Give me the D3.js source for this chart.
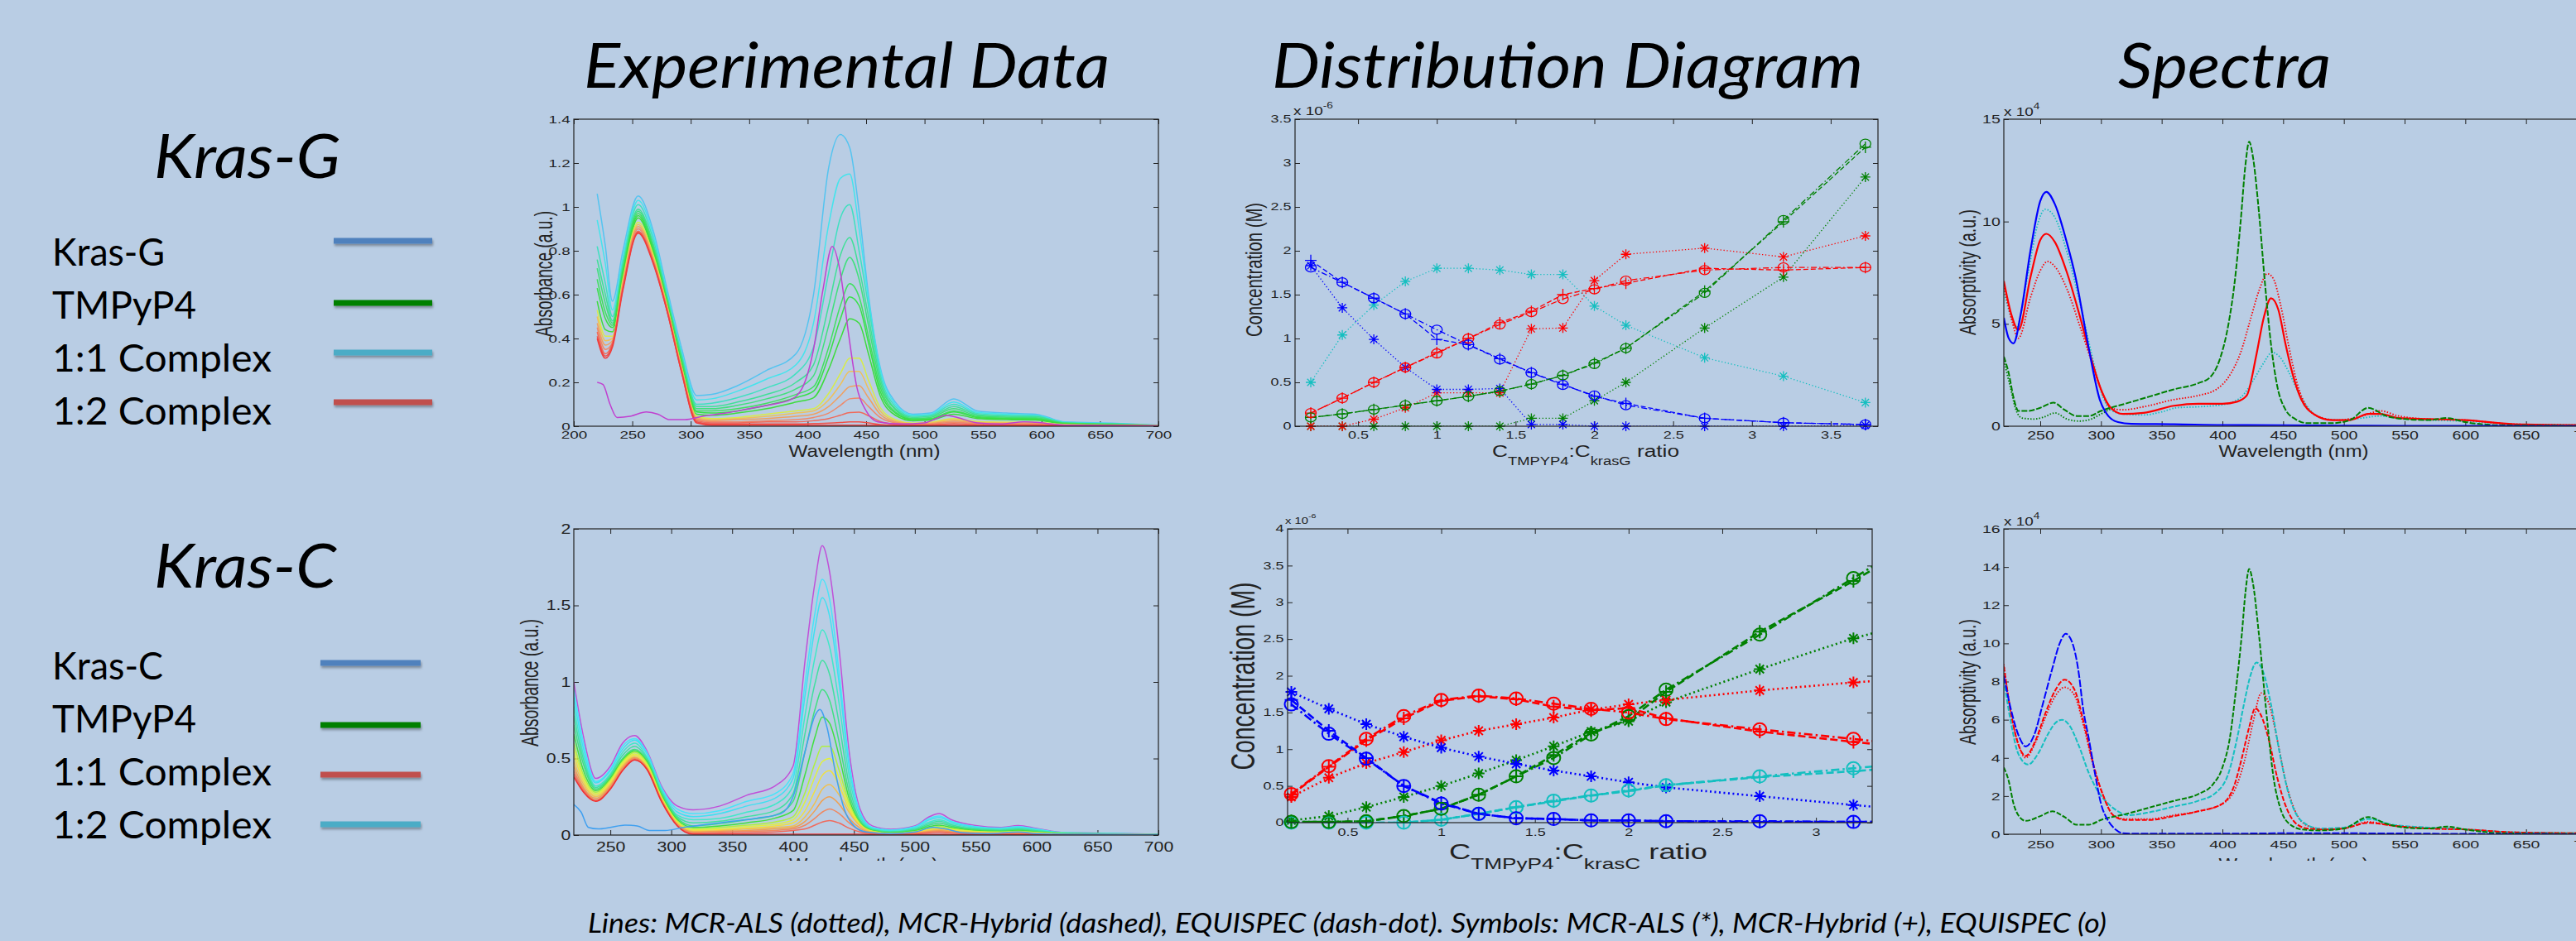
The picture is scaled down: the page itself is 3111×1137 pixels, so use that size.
<!DOCTYPE html>
<html>
<head>
<meta charset="utf-8">
<script src="https://cdn.jsdelivr.net/npm/d3@7"></script>
<style>
  body { margin: 0; background: #b9cde4; }
  svg { display: block; }
</style>
</head>
<body>
<script>
// ---------------- data ----------------

// Kras-G experimental titration spectra: one row per wavelength, 15 spectra (red -> light blue)
const expGWave = [220, 227, 233, 242, 255, 268, 280, 292, 305, 318, 340, 365, 390, 405, 418, 428, 436, 444, 452, 462, 475, 490, 505, 525, 545, 570, 595, 620, 660, 700];
const expGRows = [
  [0.40, 0.41, 0.43, 0.45, 0.47, 0.50, 0.53, 0.57, 0.63, 0.67, 0.72, 0.76, 0.82, 0.94, 1.06],
  [0.31, 0.32, 0.33, 0.35, 0.37, 0.39, 0.41, 0.44, 0.49, 0.52, 0.56, 0.60, 0.65, 0.74, 0.82],
  [0.36, 0.37, 0.38, 0.38, 0.39, 0.40, 0.41, 0.43, 0.45, 0.46, 0.47, 0.48, 0.50, 0.53, 0.57],
  [0.62, 0.63, 0.63, 0.64, 0.65, 0.66, 0.67, 0.68, 0.70, 0.71, 0.72, 0.73, 0.75, 0.77, 0.80],
  [0.88, 0.885, 0.89, 0.90, 0.91, 0.92, 0.93, 0.95, 0.96, 0.97, 0.98, 0.99, 1.01, 1.03, 1.05],
  [0.74, 0.745, 0.75, 0.755, 0.76, 0.77, 0.78, 0.79, 0.80, 0.81, 0.82, 0.83, 0.85, 0.87, 0.89],
  [0.52, 0.52, 0.525, 0.53, 0.535, 0.54, 0.545, 0.55, 0.56, 0.565, 0.57, 0.58, 0.59, 0.60, 0.62],
  [0.25, 0.25, 0.255, 0.26, 0.265, 0.27, 0.275, 0.28, 0.29, 0.30, 0.31, 0.32, 0.33, 0.34, 0.36],
  [0.015, 0.02, 0.025, 0.03, 0.035, 0.04, 0.045, 0.055, 0.065, 0.07, 0.08, 0.09, 0.10, 0.12, 0.14],
  [0.005, 0.01, 0.015, 0.02, 0.025, 0.03, 0.035, 0.05, 0.06, 0.07, 0.08, 0.09, 0.105, 0.125, 0.145],
  [0.005, 0.01, 0.015, 0.02, 0.03, 0.035, 0.04, 0.06, 0.07, 0.08, 0.095, 0.11, 0.13, 0.16, 0.185],
  [0.005, 0.01, 0.02, 0.025, 0.035, 0.045, 0.055, 0.08, 0.095, 0.105, 0.125, 0.145, 0.175, 0.215, 0.255],
  [0.005, 0.01, 0.02, 0.03, 0.045, 0.06, 0.07, 0.11, 0.13, 0.145, 0.17, 0.20, 0.24, 0.28, 0.33],
  [0.005, 0.012, 0.025, 0.04, 0.055, 0.07, 0.08, 0.13, 0.16, 0.18, 0.23, 0.28, 0.36, 0.47, 0.60],
  [0.005, 0.014, 0.035, 0.06, 0.09, 0.12, 0.15, 0.26, 0.32, 0.36, 0.46, 0.55, 0.70, 0.92, 1.18],
  [0.005, 0.017, 0.05, 0.095, 0.14, 0.19, 0.24, 0.40, 0.49, 0.55, 0.67, 0.78, 0.95, 1.13, 1.33],
  [0.005, 0.02, 0.062, 0.125, 0.18, 0.25, 0.31, 0.49, 0.59, 0.65, 0.77, 0.86, 1.01, 1.15, 1.27],
  [0.005, 0.02, 0.064, 0.128, 0.185, 0.25, 0.31, 0.47, 0.55, 0.59, 0.67, 0.72, 0.80, 0.90, 0.98],
  [0.005, 0.015, 0.048, 0.09, 0.13, 0.17, 0.21, 0.33, 0.38, 0.41, 0.46, 0.50, 0.55, 0.58, 0.60],
  [0.005, 0.008, 0.022, 0.04, 0.055, 0.07, 0.085, 0.14, 0.16, 0.18, 0.20, 0.22, 0.24, 0.26, 0.27],
  [0.004, 0.005, 0.01, 0.015, 0.02, 0.025, 0.03, 0.05, 0.06, 0.065, 0.075, 0.08, 0.09, 0.10, 0.11],
  [0.003, 0.004, 0.006, 0.008, 0.01, 0.012, 0.014, 0.025, 0.03, 0.032, 0.035, 0.04, 0.045, 0.05, 0.055],
  [0.003, 0.004, 0.007, 0.01, 0.012, 0.015, 0.018, 0.028, 0.032, 0.035, 0.04, 0.045, 0.05, 0.055, 0.06],
  [0.004, 0.006, 0.012, 0.018, 0.024, 0.03, 0.035, 0.055, 0.065, 0.07, 0.08, 0.09, 0.10, 0.11, 0.125],
  [0.003, 0.004, 0.008, 0.012, 0.015, 0.018, 0.022, 0.035, 0.04, 0.043, 0.048, 0.053, 0.058, 0.063, 0.07],
  [0.003, 0.004, 0.007, 0.01, 0.013, 0.016, 0.019, 0.03, 0.034, 0.037, 0.041, 0.045, 0.05, 0.055, 0.06],
  [0.003, 0.004, 0.007, 0.01, 0.012, 0.015, 0.018, 0.028, 0.032, 0.035, 0.039, 0.043, 0.047, 0.05, 0.055],
  [0.002, 0.003, 0.004, 0.005, 0.006, 0.007, 0.008, 0.01, 0.012, 0.013, 0.014, 0.015, 0.016, 0.018, 0.02],
  [0.002, 0.002, 0.003, 0.003, 0.004, 0.004, 0.005, 0.006, 0.007, 0.008, 0.009, 0.01, 0.011, 0.012, 0.014],
  [0.001, 0.001, 0.001, 0.002, 0.002, 0.002, 0.002, 0.003, 0.003, 0.003, 0.004, 0.004, 0.004, 0.005, 0.005]
];
// TMPyP4 alone (magenta) in the Kras-G panel
const expGMagWave = [220, 225, 231, 237, 248, 262, 272, 282, 295, 310, 330, 350, 370, 385, 395, 405, 413, 421, 428, 435, 442, 450, 460, 480, 500, 510, 518, 528, 545, 565, 585, 595, 620, 660, 700];
const expGMagVal = [0.20, 0.19, 0.10, 0.04, 0.045, 0.065, 0.055, 0.03, 0.03, 0.045, 0.06, 0.08, 0.10, 0.12, 0.17, 0.35, 0.62, 0.82, 0.70, 0.42, 0.18, 0.07, 0.02, 0.01, 0.015, 0.035, 0.05, 0.04, 0.015, 0.01, 0.02, 0.018, 0.005, 0.003, 0.002];

// Kras-C experimental titration spectra: 14 spectra (red -> cyan) + magenta envelope
const expCWave = [220, 228, 238, 250, 260, 270, 280, 292, 305, 318, 340, 362, 385, 400, 410, 418, 424, 430, 438, 446, 455, 465, 480, 500, 512, 520, 530, 550, 570, 585, 600, 620, 660, 700];
const expCRows = [
  [0.38, 0.40, 0.42, 0.45, 0.48, 0.52, 0.56, 0.60, 0.66, 0.72, 0.78, 0.84, 0.90, 0.95, 1.00],
  [0.28, 0.29, 0.30, 0.31, 0.33, 0.35, 0.37, 0.39, 0.42, 0.46, 0.49, 0.52, 0.56, 0.60, 0.64],
  [0.22, 0.225, 0.23, 0.24, 0.25, 0.26, 0.27, 0.28, 0.29, 0.30, 0.31, 0.32, 0.34, 0.35, 0.37],
  [0.30, 0.305, 0.31, 0.32, 0.33, 0.34, 0.35, 0.36, 0.37, 0.38, 0.39, 0.40, 0.42, 0.43, 0.45],
  [0.42, 0.425, 0.43, 0.44, 0.45, 0.46, 0.47, 0.48, 0.49, 0.50, 0.52, 0.54, 0.56, 0.58, 0.60],
  [0.49, 0.495, 0.50, 0.505, 0.51, 0.52, 0.53, 0.54, 0.55, 0.56, 0.58, 0.60, 0.62, 0.63, 0.65],
  [0.43, 0.43, 0.435, 0.44, 0.445, 0.45, 0.46, 0.47, 0.48, 0.49, 0.50, 0.51, 0.53, 0.54, 0.55],
  [0.22, 0.22, 0.225, 0.23, 0.235, 0.24, 0.245, 0.25, 0.26, 0.27, 0.28, 0.29, 0.30, 0.31, 0.32],
  [0.06, 0.062, 0.065, 0.07, 0.075, 0.08, 0.085, 0.09, 0.10, 0.11, 0.12, 0.13, 0.15, 0.17, 0.19],
  [0.005, 0.01, 0.015, 0.02, 0.025, 0.03, 0.035, 0.04, 0.05, 0.06, 0.08, 0.10, 0.12, 0.14, 0.165],
  [0.005, 0.012, 0.02, 0.025, 0.03, 0.035, 0.04, 0.05, 0.06, 0.075, 0.09, 0.11, 0.14, 0.16, 0.19],
  [0.005, 0.015, 0.025, 0.03, 0.04, 0.045, 0.055, 0.065, 0.08, 0.10, 0.12, 0.15, 0.19, 0.22, 0.26],
  [0.005, 0.02, 0.03, 0.04, 0.05, 0.06, 0.07, 0.085, 0.11, 0.13, 0.16, 0.20, 0.24, 0.27, 0.32],
  [0.005, 0.03, 0.04, 0.05, 0.06, 0.08, 0.10, 0.12, 0.16, 0.22, 0.27, 0.32, 0.37, 0.40, 0.45],
  [0.005, 0.04, 0.065, 0.09, 0.12, 0.16, 0.22, 0.28, 0.40, 0.55, 0.67, 0.79, 0.92, 1.00, 1.15],
  [0.005, 0.065, 0.11, 0.16, 0.21, 0.29, 0.38, 0.47, 0.64, 0.82, 0.99, 1.16, 1.35, 1.45, 1.65],
  [0.005, 0.085, 0.15, 0.225, 0.30, 0.39, 0.48, 0.58, 0.77, 0.95, 1.14, 1.34, 1.55, 1.67, 1.89],
  [0.005, 0.095, 0.17, 0.25, 0.33, 0.42, 0.50, 0.58, 0.73, 0.88, 1.05, 1.23, 1.43, 1.54, 1.72],
  [0.005, 0.078, 0.14, 0.20, 0.26, 0.32, 0.37, 0.42, 0.51, 0.60, 0.72, 0.85, 0.98, 1.05, 1.20],
  [0.005, 0.045, 0.08, 0.11, 0.15, 0.17, 0.19, 0.21, 0.24, 0.28, 0.33, 0.39, 0.45, 0.48, 0.55],
  [0.005, 0.02, 0.03, 0.045, 0.06, 0.065, 0.07, 0.075, 0.08, 0.09, 0.10, 0.12, 0.14, 0.15, 0.17],
  [0.004, 0.008, 0.012, 0.015, 0.02, 0.022, 0.024, 0.026, 0.03, 0.033, 0.036, 0.04, 0.045, 0.05, 0.06],
  [0.003, 0.005, 0.006, 0.007, 0.008, 0.009, 0.01, 0.012, 0.015, 0.018, 0.021, 0.025, 0.03, 0.033, 0.038],
  [0.003, 0.008, 0.01, 0.012, 0.014, 0.017, 0.02, 0.023, 0.028, 0.033, 0.038, 0.043, 0.05, 0.055, 0.06],
  [0.004, 0.015, 0.02, 0.025, 0.03, 0.035, 0.04, 0.045, 0.055, 0.065, 0.075, 0.085, 0.10, 0.11, 0.12],
  [0.004, 0.017, 0.024, 0.03, 0.036, 0.042, 0.048, 0.055, 0.065, 0.078, 0.09, 0.10, 0.115, 0.125, 0.14],
  [0.003, 0.012, 0.017, 0.022, 0.027, 0.032, 0.036, 0.042, 0.05, 0.058, 0.066, 0.075, 0.085, 0.09, 0.10],
  [0.003, 0.007, 0.01, 0.013, 0.016, 0.019, 0.022, 0.025, 0.03, 0.035, 0.04, 0.046, 0.052, 0.056, 0.062],
  [0.003, 0.006, 0.008, 0.01, 0.013, 0.015, 0.018, 0.02, 0.025, 0.029, 0.033, 0.038, 0.043, 0.046, 0.05],
  [0.003, 0.007, 0.01, 0.013, 0.016, 0.019, 0.022, 0.025, 0.03, 0.035, 0.04, 0.046, 0.052, 0.056, 0.062],
  [0.003, 0.005, 0.007, 0.009, 0.011, 0.013, 0.015, 0.017, 0.02, 0.024, 0.028, 0.032, 0.036, 0.039, 0.043],
  [0.002, 0.003, 0.004, 0.005, 0.006, 0.007, 0.008, 0.009, 0.01, 0.012, 0.013, 0.014, 0.016, 0.017, 0.018],
  [0.002, 0.002, 0.003, 0.003, 0.004, 0.004, 0.005, 0.005, 0.006, 0.007, 0.008, 0.009, 0.01, 0.011, 0.012],
  [0.001, 0.001, 0.002, 0.002, 0.002, 0.002, 0.003, 0.003, 0.003, 0.003, 0.004, 0.004, 0.004, 0.005, 0.005]
];
// TMPyP4 alone (blue) in the Kras-C panel
const expCBlueWave = [220, 226, 232, 240, 250, 262, 272, 282, 295, 310, 330, 350, 370, 390, 400, 410, 418, 422, 428, 435, 442, 450, 460, 480, 500, 515, 525, 540, 560, 585, 600, 640, 700];
const expCBlueVal = [0.20, 0.15, 0.05, 0.04, 0.05, 0.065, 0.06, 0.03, 0.03, 0.05, 0.07, 0.09, 0.11, 0.14, 0.25, 0.55, 0.78, 0.82, 0.70, 0.40, 0.17, 0.06, 0.02, 0.01, 0.02, 0.05, 0.04, 0.015, 0.01, 0.02, 0.01, 0.005, 0.004];

// distribution diagram Kras-G (units 1e-6 M)
const distGx = [0.2, 0.4, 0.6, 0.8, 1.0, 1.2, 1.4, 1.6, 1.8, 2.0, 2.2, 2.7, 3.2, 3.72];
const distGBlueEQ  = [1.81, 1.64, 1.46, 1.28, 1.10, 0.93, 0.76, 0.61, 0.47, 0.35, 0.24, 0.09, 0.04, 0.02];
const distGBlueHY  = [1.89, 1.64, 1.46, 1.28, 0.99, 0.93, 0.77, 0.61, 0.48, 0.34, 0.26, 0.09, 0.04, 0.02];
const distGBlueALS = [1.83, 1.35, 0.99, 0.67, 0.42, 0.42, 0.43, 0.02, 0.02, 0.0, 0.0, 0.0, 0.0, 0.01];
const distGRedEQ   = [0.15, 0.32, 0.50, 0.67, 0.83, 1.00, 1.16, 1.30, 1.45, 1.56, 1.66, 1.78, 1.81, 1.81];
const distGRedHY   = [0.15, 0.32, 0.50, 0.67, 0.84, 1.00, 1.18, 1.31, 1.50, 1.57, 1.63, 1.80, 1.78, 1.81];
const distGRedALS  = [0.0, 0.0, 0.08, 0.21, 0.38, 0.38, 0.38, 1.11, 1.12, 1.66, 1.96, 2.03, 1.93, 2.17];
const distGGreenEQ = [0.10, 0.14, 0.19, 0.24, 0.29, 0.34, 0.40, 0.48, 0.58, 0.71, 0.89, 1.52, 2.35, 3.22];
const distGGreenHY = [0.10, 0.14, 0.19, 0.24, 0.29, 0.34, 0.40, 0.48, 0.58, 0.72, 0.89, 1.54, 2.33, 3.18];
const distGGreenALS = [0, 0, 0, 0, 0, 0, 0, 0.09, 0.09, 0.29, 0.50, 1.12, 1.70, 2.84];
const distGCyanALS = [0.50, 1.04, 1.38, 1.65, 1.80, 1.80, 1.78, 1.73, 1.73, 1.37, 1.15, 0.78, 0.57, 0.27];

// distribution diagram Kras-C (units 1e-6 M)
const distCx = [0.2, 0.4, 0.6, 0.8, 1.0, 1.2, 1.4, 1.6, 1.8, 2.0, 2.2, 2.7, 3.2, 3.7];
const distCBlueEQ  = [1.61, 1.21, 0.87, 0.50, 0.26, 0.12, 0.06, 0.05, 0.03, 0.03, 0.02, 0.02, 0.01, 0.01];
const distCBlueHY  = [1.67, 1.25, 0.88, 0.50, 0.27, 0.12, 0.06, 0.05, 0.03, 0.03, 0.02, 0.01, 0.01, 0.01];
const distCBlueALS = [1.78, 1.55, 1.34, 1.17, 1.02, 0.90, 0.80, 0.71, 0.63, 0.55, 0.48, 0.36, 0.24, 0.13];
const distCRedEQ   = [0.39, 0.77, 1.14, 1.45, 1.67, 1.73, 1.69, 1.62, 1.55, 1.50, 1.41, 1.27, 1.14, 1.00];
const distCRedHY   = [0.38, 0.76, 1.12, 1.42, 1.66, 1.72, 1.68, 1.58, 1.53, 1.56, 1.42, 1.24, 1.10, 0.97];
const distCRedALS  = [0.35, 0.61, 0.81, 0.96, 1.12, 1.25, 1.34, 1.43, 1.54, 1.61, 1.67, 1.80, 1.91, 1.99];
const distCGreenEQ = [0.01, 0.01, 0.02, 0.09, 0.19, 0.38, 0.63, 0.88, 1.20, 1.45, 1.81, 2.56, 3.33, 4.10];
const distCGreenHY = [0.01, 0.01, 0.02, 0.09, 0.19, 0.38, 0.63, 0.92, 1.22, 1.40, 1.78, 2.60, 3.29, 4.05];
const distCGreenALS = [0.03, 0.09, 0.21, 0.35, 0.50, 0.67, 0.85, 1.04, 1.24, 1.38, 1.64, 2.09, 2.51, 2.84];
const distCCyanEQ  = [0.0, 0.0, 0.0, 0.0, 0.04, 0.12, 0.21, 0.30, 0.37, 0.44, 0.51, 0.63, 0.74, 0.86];
const distCCyanHY  = [0.0, 0.0, 0.0, 0.0, 0.04, 0.12, 0.21, 0.29, 0.37, 0.43, 0.51, 0.62, 0.70, 0.80];

// resolved spectra Kras-G (units 1e4)
const specGBlueWave = [220, 224, 228, 234, 242, 250, 255, 262, 272, 279, 289, 299, 306, 314, 325, 360, 400, 450, 500, 550, 600, 650, 700];
const specGBlueVal  = [5.3, 4.3, 4.05, 5.5, 8.6, 11.0, 11.45, 10.85, 8.95, 7.3, 4.1, 1.3, 0.5, 0.2, 0.12, 0.1, 0.06, 0.05, 0.03, 0.02, 0.02, 0.01, 0.0];
const specGCyanWave = [220, 225, 230, 240, 248, 254, 262, 272, 282, 292, 300, 308, 318, 335, 350, 362, 380, 400, 415, 425, 433, 441, 447, 455, 463, 472, 485, 500, 515, 530, 545, 570, 600, 640, 700];
const specGCyanVal  = [6.6, 5.5, 4.8, 7.5, 9.9, 10.6, 10.2, 8.5, 6.2, 3.6, 1.7, 0.8, 0.6, 0.55, 0.7, 0.9, 0.95, 1.05, 1.4, 2.2, 3.0, 3.6, 3.4, 2.6, 1.6, 0.8, 0.35, 0.3, 0.4, 0.5, 0.4, 0.3, 0.25, 0.1, 0.05];
const specGRedWave  = [220, 226, 232, 242, 250, 255, 262, 272, 282, 292, 300, 308, 318, 335, 360, 380, 400, 412, 420, 428, 434, 440, 446, 452, 458, 465, 475, 490, 505, 520, 530, 545, 570, 600, 640, 700];
const specGRedVal   = [7.1, 5.5, 4.7, 7.3, 9.1, 9.4, 9.0, 7.5, 5.5, 3.3, 1.8, 0.9, 0.6, 0.65, 1.0, 1.1, 1.1, 1.2, 1.5, 3.5, 5.3, 6.25, 5.7, 4.0, 2.5, 1.3, 0.6, 0.3, 0.3, 0.6, 0.6, 0.4, 0.35, 0.3, 0.1, 0.05];
const specGRed2Wave = [220, 226, 232, 242, 250, 256, 262, 272, 282, 292, 300, 308, 318, 335, 360, 380, 395, 405, 415, 423, 430, 437, 442, 448, 455, 462, 470, 480, 495, 515, 530, 545, 570, 600, 640, 700];
const specGRed2Val  = [6.9, 5.3, 4.3, 6.3, 7.6, 8.05, 7.8, 6.7, 5.0, 3.2, 1.8, 0.9, 0.8, 0.95, 1.3, 1.5, 1.8, 2.4, 3.6, 5.2, 6.6, 7.45, 7.2, 5.9, 3.8, 2.0, 0.9, 0.45, 0.3, 0.5, 0.75, 0.5, 0.35, 0.3, 0.1, 0.05];
const specGGreenWave = [220, 224, 228, 232, 240, 250, 261, 270, 280, 290, 300, 320, 340, 360, 380, 390, 398, 405, 410, 415, 419, 422, 425, 430, 435, 440, 445, 452, 460, 470, 490, 505, 520, 535, 550, 570, 585, 600, 630, 700];
const specGGreenVal  = [3.4, 2.6, 1.4, 0.75, 0.75, 0.9, 1.15, 0.8, 0.5, 0.5, 0.75, 1.1, 1.45, 1.8, 2.1, 2.4, 3.3, 5.0, 7.0, 10.0, 12.8, 13.9, 13.2, 10.5, 7.0, 4.0, 2.0, 0.8, 0.35, 0.15, 0.15, 0.3, 0.9, 0.5, 0.35, 0.3, 0.4, 0.2, 0.05, 0.02];
const specGGreen2Wave = [220, 225, 230, 235, 245, 253, 262, 272, 282, 292, 300, 310];
const specGGreen2Val  = [3.2, 2.0, 0.8, 0.4, 0.35, 0.45, 0.65, 0.35, 0.25, 0.35, 0.6, 0.9];

// resolved spectra Kras-C (units 1e4)
const specCBlueWave = [220, 226, 232, 238, 245, 252, 260, 266, 271, 276, 282, 285, 290, 295, 300, 306, 312, 318, 325, 360, 400, 450, 500, 600, 700];
const specCBlueVal  = [8.3, 6.5, 5.2, 4.6, 5.2, 6.8, 8.7, 10.0, 10.5, 10.1, 8.3, 6.7, 5.0, 3.2, 1.6, 0.7, 0.25, 0.05, 0.03, 0.03, 0.03, 0.05, 0.05, 0.02, 0.0];
const specCRedWave  = [220, 226, 232, 238, 246, 254, 262, 270, 278, 286, 294, 302, 310, 320, 340, 360, 380, 400, 410, 416, 422, 427, 432, 438, 445, 452, 460, 470, 485, 500, 520, 540, 570, 600, 640, 700];
const specCRedVal   = [8.8, 6.3, 4.7, 4.1, 4.9, 6.3, 7.5, 8.1, 7.6, 5.8, 3.6, 2.0, 1.0, 0.75, 0.75, 0.95, 1.2, 1.6, 2.6, 4.0, 5.6, 6.6, 6.2, 5.0, 3.0, 1.5, 0.6, 0.3, 0.25, 0.3, 0.6, 0.45, 0.3, 0.25, 0.1, 0.05];
const specCRed2Wave = [220, 226, 232, 238, 246, 254, 262, 270, 278, 286, 294, 302, 310, 320, 340, 360, 380, 400, 410, 418, 425, 432, 438, 445, 452, 460, 470, 485, 500, 520, 540, 570, 600, 640, 700];
const specCRed2Val  = [8.9, 6.3, 4.7, 4.0, 4.8, 6.1, 7.2, 7.7, 7.3, 5.6, 3.5, 2.0, 1.0, 0.8, 0.8, 1.0, 1.2, 1.6, 2.3, 3.8, 5.8, 7.4, 6.9, 5.0, 2.8, 1.2, 0.45, 0.25, 0.3, 0.65, 0.45, 0.3, 0.25, 0.1, 0.05];
const specCCyanWave = [220, 226, 232, 240, 248, 256, 262, 268, 274, 282, 290, 298, 306, 314, 322, 340, 360, 380, 395, 405, 412, 418, 423, 428, 433, 440, 447, 455, 465, 480, 500, 520, 540, 570, 600, 640, 700];
const specCCyanVal  = [8.1, 5.8, 4.2, 3.65, 4.2, 5.2, 5.8, 6.0, 5.7, 4.6, 3.2, 2.2, 1.6, 1.2, 1.0, 1.15, 1.45, 1.75, 2.2, 3.2, 5.0, 6.9, 8.3, 9.0, 8.6, 6.8, 4.3, 2.0, 0.7, 0.3, 0.35, 0.8, 0.5, 0.35, 0.25, 0.1, 0.05];
const specCGreenWave = [220, 224, 228, 233, 238, 250, 260, 270, 280, 290, 300, 320, 340, 360, 380, 392, 400, 406, 411, 416, 419, 422, 425, 430, 436, 442, 448, 456, 466, 480, 500, 520, 535, 550, 570, 585, 600, 630, 700];
const specCGreenVal  = [3.5, 2.8, 1.6, 0.9, 0.7, 0.95, 1.2, 0.9, 0.5, 0.5, 0.75, 1.05, 1.4, 1.75, 2.1, 2.6, 3.5, 5.0, 7.5, 10.5, 12.7, 13.9, 13.2, 10.5, 6.5, 3.0, 1.3, 0.5, 0.25, 0.2, 0.3, 0.9, 0.55, 0.35, 0.3, 0.4, 0.25, 0.05, 0.02];

// tick labels
const wlTicks200 = [200, 250, 300, 350, 400, 450, 500, 550, 600, 650, 700];
const wlTicks250 = [250, 300, 350, 400, 450, 500, 550, 600, 650, 700];
const expGYTicks = [0, 0.2, 0.4, 0.6, 0.8, 1, 1.2, 1.4];
const expCYTicks = [0, 0.5, 1, 1.5, 2];
const distGXTicks = [0.5, 1, 1.5, 2, 2.5, 3, 3.5];
const distGYTicks = [0, 0.5, 1, 1.5, 2, 2.5, 3, 3.5];
const distCXTicks = [0.5, 1, 1.5, 2, 2.5, 3];
const distCYTicks = [0, 0.5, 1, 1.5, 2, 2.5, 3, 3.5, 4];
const specGYTicks = [0, 5, 10, 15];
const specCYTicks = [0, 2, 4, 6, 8, 10, 12, 14, 16];

// text
const colTitles = ['Experimental Data', 'Distribution Diagram', 'Spectra'];
const rowTitles = ['Kras-G', 'Kras-C'];
const legendG = ['Kras-G', 'TMPyP4', '1:1 Complex', '1:2 Complex'];
const legendC = ['Kras-C', 'TMPyP4', '1:1 Complex', '1:2 Complex'];
const footer = 'Lines: MCR-ALS (dotted), MCR-Hybrid (dashed), EQUISPEC (dash-dot). Symbols: MCR-ALS (*), MCR-Hybrid (+), EQUISPEC (o)';

// ---------------- styles ----------------
const BG = '#b9cde4';
const SLIDE_FONT = 'Lato, "Open Sans", sans-serif';
const PLOT_FONT = '"Liberation Sans", Arial, Helvetica, sans-serif';
const INK = '#222';
const C_BLUE = '#0000ff', C_RED = '#ff0000', C_GREEN = '#008000', C_CYAN = '#14bfc0';
const expGColors = ['#f03c3c', '#f05048', '#f06a5a', '#f08868', '#f0a060', '#f0c058', '#d8ec48', '#3cdc3c', '#38e048', '#40e060', '#40e07c', '#40e098', '#40e0c0', '#44e4ec', '#54c4f0'];
const expCColors = ['#f03030', '#f06a5c', '#f08860', '#f0a050', '#f0c050', '#f0e040', '#e0f040', '#b0f040', '#40e040', '#40e080', '#40e0a0', '#40e8c8', '#40e0f0', '#48e4f8', '#c050d8'];
const legendColorsG = ['#4f81bd', '#008000', '#4bacc6', '#c0504d'];
const legendColorsC = ['#4f81bd', '#008000', '#c0504d', '#4bacc6'];

const W = 3111, H = 1137;
const svg = d3.select('body').append('svg').attr('width', W).attr('height', H);
svg.append('rect').attr('width', W).attr('height', H).attr('fill', BG);
const defs = svg.append('defs');

const shadow = defs.append('filter').attr('id', 'shadow')
    .attr('filterUnits', 'userSpaceOnUse')
    .attr('x', 0).attr('y', 0).attr('width', W).attr('height', H);
shadow.append('feDropShadow').attr('dx', 1).attr('dy', 2.5).attr('stdDeviation', 1.5)
    .attr('flood-color', '#000').attr('flood-opacity', 0.35);

defs.append('clipPath').attr('id', 'rowclip').append('rect')
    .attr('x', 0).attr('y', 0).attr('width', W).attr('height', 1040);

// ---------------- helpers ----------------
function makePanel(cfg) {
    const p = { cfg };
    p.x = d3.scaleLinear().domain(cfg.xDomain).range([cfg.left, cfg.right]);
    p.y = d3.scaleLinear().domain(cfg.yDomain).range([cfg.bottom, cfg.top]);

    defs.append('clipPath').attr('id', 'clip-' + cfg.id).append('rect')
        .attr('x', cfg.left).attr('y', cfg.top)
        .attr('width', cfg.right - cfg.left).attr('height', cfg.bottom - cfg.top);

    const g = svg.append('g');
    const tk = 6;
    const fmt = d => String(d);
    const none = () => '';
    const axes = [
        [d3.axisBottom(p.x).tickValues(cfg.xTicks).tickFormat(fmt).tickPadding(cfg.xPad), `translate(0,${cfg.bottom})`],
        [d3.axisTop(p.x).tickValues(cfg.xTicks).tickFormat(none), `translate(0,${cfg.top})`],
        [d3.axisLeft(p.y).tickValues(cfg.yTicks).tickFormat(fmt).tickPadding(3), `translate(${cfg.left},0)`],
        [d3.axisRight(p.y).tickValues(cfg.yTicks).tickFormat(none), `translate(${cfg.right},0)`]
    ];
    axes.forEach(([ax, tr]) => {
        const ag = g.append('g').attr('transform', tr)
            .call(ax.tickSizeInner(-tk).tickSizeOuter(0));
        ag.select('.domain').remove();
        ag.selectAll('line').attr('stroke', INK).attr('stroke-width', 1);
        ag.selectAll('text')
            .attr('fill', INK)
            .attr('font-family', PLOT_FONT)
            .attr('font-size', cfg.font)
            .attr('transform', `scale(${cfg.stretch},1)`);
    });

    p.plot = svg.append('g').attr('clip-path', `url(#clip-${cfg.id})`);
    p.marks = svg.append('g');
    p.frame = () => svg.append('rect')
        .attr('x', cfg.left).attr('y', cfg.top)
        .attr('width', cfg.right - cfg.left).attr('height', cfg.bottom - cfg.top)
        .attr('fill', 'none').attr('stroke', INK).attr('stroke-width', 1.2);
    return p;
}

function drawFamily(p, wave, rows, colors, lw) {
    const line = d3.line()
        .x((d, i) => p.x(wave[i]))
        .y(d => p.y(d))
        .curve(d3.curveMonotoneX);
    for (let k = rows[0].length - 1; k >= 0; k--) {
        p.plot.append('path')
            .attr('d', line(rows.map(r => r[k])))
            .attr('fill', 'none')
            .attr('stroke', colors[k])
            .attr('stroke-width', lw);
    }
}

function drawCurve(p, wave, vals, color, lw, dash) {
    const line = d3.line()
        .x((d, i) => p.x(wave[i]))
        .y(d => p.y(d))
        .curve(d3.curveMonotoneX);
    p.plot.append('path')
        .attr('d', line(vals))
        .attr('fill', 'none')
        .attr('stroke', color)
        .attr('stroke-width', lw)
        .attr('stroke-dasharray', dash || null);
}

const markerPath = {
    star: r => {
        const a = r * 0.72;
        return `M${-r},0H${r}M0,${-r}V${r}M${-a},${-a}L${a},${a}M${-a},${a}L${a},${-a}`;
    },
    plus: r => `M${-r},0H${r}M0,${-r}V${r}`
};

function drawDist(p, xs, series, st) {
    const line = d3.line().x((d, i) => p.x(xs[i])).y(d => p.y(d));
    series.forEach(s => {
        p.plot.append('path')
            .attr('d', line(s.vals))
            .attr('fill', 'none')
            .attr('stroke', s.color)
            .attr('stroke-width', st.lw)
            .attr('stroke-dasharray', st.dash[s.method]);
    });
    const xmax = p.x.domain()[1];
    series.forEach(s => {
        const pts = s.vals.map((v, i) => [xs[i], v]).filter(d => d[0] <= xmax);
        const sel = p.marks.selectAll(null).data(pts);
        if (s.method === 'eq') {
            sel.join('ellipse')
                .attr('cx', d => p.x(d[0])).attr('cy', d => p.y(d[1]))
                .attr('rx', st.rx).attr('ry', st.ry)
                .attr('fill', 'none').attr('stroke', s.color).attr('stroke-width', st.mw);
        } else {
            const shape = s.method === 'als' ? markerPath.star(st.r) : markerPath.plus(st.r + 1);
            sel.join('path')
                .attr('transform', d => `translate(${p.x(d[0])},${p.y(d[1])})`)
                .attr('d', shape)
                .attr('fill', 'none').attr('stroke', s.color).attr('stroke-width', st.mw);
        }
    });
}

function fitText(parent, txt, x, y, size, len, opts = {}) {
    return parent.append('text')
        .attr('x', x).attr('y', y)
        .attr('font-family', opts.family || SLIDE_FONT)
        .attr('font-size', size)
        .attr('font-style', opts.italic ? 'italic' : 'normal')
        .attr('text-anchor', opts.anchor || 'start')
        .attr('fill', opts.fill || '#000')
        .attr('textLength', len)
        .attr('lengthAdjust', 'spacingAndGlyphs')
        .text(txt);
}

function yLabel(txt, x, y, size, len) {
    svg.append('text')
        .attr('transform', `translate(${x},${y}) rotate(-90)`)
        .attr('text-anchor', 'middle')
        .attr('font-family', PLOT_FONT)
        .attr('font-size', size)
        .attr('fill', INK)
        .attr('textLength', len)
        .attr('lengthAdjust', 'spacingAndGlyphs')
        .text(txt);
}

function ratioLabel(parent, x, y, size, sub, dy, len, subA, subB) {
    const t = parent.append('text')
        .attr('x', x).attr('y', y)
        .attr('font-family', PLOT_FONT).attr('font-size', size).attr('fill', INK)
        .attr('textLength', len).attr('lengthAdjust', 'spacingAndGlyphs');
    t.append('tspan').text('C');
    t.append('tspan').attr('font-size', sub).attr('dy', dy).text(subA);
    t.append('tspan').attr('dy', -dy).text(':C');
    t.append('tspan').attr('font-size', sub).attr('dy', dy).text(subB);
    t.append('tspan').attr('dy', -dy).text(' ratio');
}

function expLabel(x, y, size, sup, stretch) {
    const t = svg.append('text')
        .attr('transform', `translate(${x},${y}) scale(${stretch},1)`)
        .attr('font-family', PLOT_FONT).attr('font-size', size).attr('fill', INK);
    t.append('tspan').text('x 10');
    t.append('tspan').attr('font-size', size * 0.72).attr('dy', -size * 0.6).text(sup);
}

// ---------------- slide text ----------------
const titleX = [705, 1536, 2558], titleLen = [635, 714, 257];
colTitles.forEach((t, i) => fitText(svg, t, titleX[i], 106, 76, titleLen[i], { italic: true }));

fitText(svg, rowTitles[0], 186, 215, 74, 225, { italic: true });
fitText(svg, rowTitles[1], 186, 710, 74, 220, { italic: true });

const legLens = [[136, 174, 265, 265], [134, 174, 265, 265]];
const legBase = [[321, 385, 449, 513], [821, 885, 949, 1013]];
const legLineY = [[291, 366, 426, 486], [801, 876, 936, 996]];
const legLineX = [[403, 522], [387, 508]];
[[legendG, legendColorsG], [legendC, legendColorsC]].forEach(([labels, cols], r) => {
    labels.forEach((lab, i) => {
        fitText(svg, lab, 63, legBase[r][i], 46, legLens[r][i]);
        svg.append('rect')
            .attr('x', legLineX[r][0]).attr('width', legLineX[r][1] - legLineX[r][0])
            .attr('y', legLineY[r][i] - 3.5).attr('height', 7)
            .attr('fill', cols[i])
            .attr('filter', 'url(#shadow)');
    });
});

fitText(svg, footer, 710, 1127, 33, 1834, { italic: true });

// ---------------- panels ----------------
const pExpG = makePanel({ id: 'expG', left: 693, right: 1399, top: 144, bottom: 515,
    xDomain: [200, 700], yDomain: [0, 1.4], xTicks: wlTicks200, yTicks: expGYTicks,
    font: 13, stretch: 1.45, xPad: 6 });
drawFamily(pExpG, expGWave, expGRows, expGColors, 1.5);
drawCurve(pExpG, expGMagWave, expGMagVal, '#c040d0', 1.5);
pExpG.frame();

const pDistG = makePanel({ id: 'distG', left: 1564, right: 2268, top: 144, bottom: 515,
    xDomain: [0.1, 3.8], yDomain: [0, 3.5], xTicks: distGXTicks, yTicks: distGYTicks,
    font: 12, stretch: 1.5, xPad: 6 });
drawDist(pDistG, distGx, [
    { color: C_CYAN, method: 'als', vals: distGCyanALS },
    { color: C_GREEN, method: 'als', vals: distGGreenALS },
    { color: C_RED, method: 'als', vals: distGRedALS },
    { color: C_BLUE, method: 'als', vals: distGBlueALS },
    { color: C_GREEN, method: 'hy', vals: distGGreenHY },
    { color: C_RED, method: 'hy', vals: distGRedHY },
    { color: C_BLUE, method: 'hy', vals: distGBlueHY },
    { color: C_GREEN, method: 'eq', vals: distGGreenEQ },
    { color: C_RED, method: 'eq', vals: distGRedEQ },
    { color: C_BLUE, method: 'eq', vals: distGBlueEQ }
], { lw: 1.3, mw: 1.3, r: 6, rx: 6.5, ry: 5.5,
     dash: { als: '1.3,2.6', hy: '6,3', eq: '7,3,1.5,3' } });
pDistG.frame();

const pSpecG = makePanel({ id: 'specG', left: 2420, right: 3124, top: 144, bottom: 515,
    xDomain: [220, 700], yDomain: [0, 15], xTicks: wlTicks250, yTicks: specGYTicks,
    font: 14, stretch: 1.4, xPad: 6 });
drawCurve(pSpecG, specGGreen2Wave, specGGreen2Val, C_GREEN, 1.8, '1.5,2');
drawCurve(pSpecG, specGCyanWave, specGCyanVal, C_CYAN, 1.8, '1.5,2');
drawCurve(pSpecG, specGRed2Wave, specGRed2Val, C_RED, 1.8, '1.5,2');
drawCurve(pSpecG, specGRedWave, specGRedVal, C_RED, 2.2);
drawCurve(pSpecG, specGGreenWave, specGGreenVal, C_GREEN, 2, '7,2');
drawCurve(pSpecG, specGBlueWave, specGBlueVal, C_BLUE, 2.2);
pSpecG.frame();

const pExpC = makePanel({ id: 'expC', left: 693, right: 1399, top: 639, bottom: 1009,
    xDomain: [220, 700], yDomain: [0, 2], xTicks: wlTicks250, yTicks: expCYTicks,
    font: 17, stretch: 1.25, xPad: 8 });
drawFamily(pExpC, expCWave, expCRows, expCColors, 1.5);
drawCurve(pExpC, expCBlueWave, expCBlueVal, '#40a0f0', 1.5);
pExpC.frame();

const pDistC = makePanel({ id: 'distC', left: 1555, right: 2261, top: 639, bottom: 994,
    xDomain: [0.18, 3.3], yDomain: [0, 4], xTicks: distCXTicks, yTicks: distCYTicks,
    font: 12, stretch: 1.5, xPad: 7 });
drawDist(pDistC, distCx, [
    { color: C_GREEN, method: 'als', vals: distCGreenALS },
    { color: C_RED, method: 'als', vals: distCRedALS },
    { color: C_BLUE, method: 'als', vals: distCBlueALS },
    { color: C_CYAN, method: 'hy', vals: distCCyanHY },
    { color: C_GREEN, method: 'hy', vals: distCGreenHY },
    { color: C_RED, method: 'hy', vals: distCRedHY },
    { color: C_BLUE, method: 'hy', vals: distCBlueHY },
    { color: C_CYAN, method: 'eq', vals: distCCyanEQ },
    { color: C_GREEN, method: 'eq', vals: distCGreenEQ },
    { color: C_RED, method: 'eq', vals: distCRedEQ },
    { color: C_BLUE, method: 'eq', vals: distCBlueEQ }
], { lw: 2.6, mw: 2, r: 7, rx: 8, ry: 7.5,
     dash: { als: '2,3.5', hy: '9,4', eq: '10,4,2.5,4' } });
pDistC.frame();

const pSpecC = makePanel({ id: 'specC', left: 2420, right: 3124, top: 639, bottom: 1008,
    xDomain: [220, 700], yDomain: [0, 16], xTicks: wlTicks250, yTicks: specCYTicks,
    font: 13.5, stretch: 1.45, xPad: 7 });
drawCurve(pSpecC, specCRed2Wave, specCRed2Val, C_RED, 1.8, '1.5,2');
drawCurve(pSpecC, specCCyanWave, specCCyanVal, C_CYAN, 2, '6,2');
drawCurve(pSpecC, specCRedWave, specCRedVal, C_RED, 2, '6,2');
drawCurve(pSpecC, specCGreenWave, specCGreenVal, C_GREEN, 2, '6,2');
drawCurve(pSpecC, specCBlueWave, specCBlueVal, C_BLUE, 2, '9,2');
pSpecC.frame();

// ---------------- axis labels ----------------
fitText(svg, 'Wavelength (nm)', 1044, 552, 21, 183, { family: PLOT_FONT, anchor: 'middle', fill: INK });
fitText(svg, 'Wavelength (nm)', 2770, 552, 21, 181, { family: PLOT_FONT, anchor: 'middle', fill: INK });
const clipped = svg.append('g').attr('clip-path', 'url(#rowclip)');
fitText(clipped, 'Wavelength (nm)', 1043, 1051, 21, 180, { family: PLOT_FONT, anchor: 'middle', fill: INK });
fitText(clipped, 'Wavelength (nm)', 2770, 1051, 21, 181, { family: PLOT_FONT, anchor: 'middle', fill: INK });

ratioLabel(svg, 1802, 552, 20, 14, 10, 226, 'TMPYP4', 'krasG');
ratioLabel(svg, 1750, 1038, 25, 18, 12, 312, 'TMPyP4', 'krasC');

yLabel('Absorbance (a.u.)', 667, 331, 30, 152);
yLabel('Concentration (M)', 1524, 326, 27, 162);
yLabel('Absorptivity (a.u.)', 2386, 329, 27, 152);
yLabel('Absorbance (a.u.)', 650, 825, 29, 154);
yLabel('Concentration (M)', 1515, 817, 40, 227);
yLabel('Absorptivity (a.u.)', 2386, 824, 28, 152);

expLabel(1562, 139, 14, '-6', 1.35);
expLabel(1552, 633, 11, '-6', 1.35);
expLabel(2420, 140, 14, '4', 1.35);
expLabel(2420, 635, 14, '4', 1.35);
</script>
</body>
</html>
